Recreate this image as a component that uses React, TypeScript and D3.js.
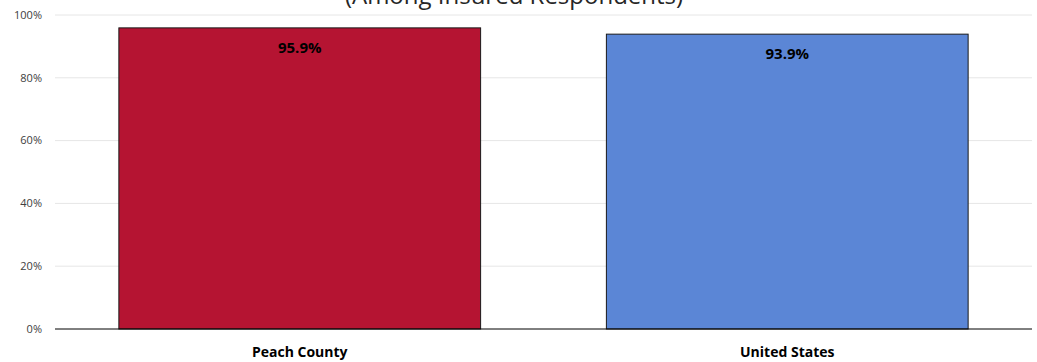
import React from "react";
import * as d3 from "d3";

const categories = ["Peach County", "United States"];
const values = [95.9, 93.9];
const colors = ["#B51432", "#5B86D6"];
const yTicks = [0, 20, 40, 60, 80, 100];
const title = "(Among Insured Respondents)";

const W = 1037;
const H = 362;
const margin = { left: 55, right: 5, top: 15, bottom: 33 };

export default function App() {
  const x = d3
    .scaleBand<string>()
    .domain(categories)
    .range([margin.left, W - margin.right])
    .paddingInner(0.258)
    .paddingOuter(0.131);
  const y = d3.scaleLinear().domain([0, 100]).range([H - margin.bottom, margin.top]);
  const font = "'Segoe UI', 'Open Sans', 'Noto Sans', sans-serif";
  return (
    <svg
      width={W}
      height={H}
      style={{ position: "absolute", left: 0, top: 0, fontFamily: font }}
    >
      <text x={514} y={4} textAnchor="middle" fontSize={24} fill="#262626">
        {title}
      </text>
      {yTicks.map((t) => (
        <g key={t}>
          {t > 0 && (
            <line
              x1={margin.left}
              x2={W - margin.right}
              y1={y(t)}
              y2={y(t)}
              stroke="#e6e6e6"
              strokeWidth={1}
            />
          )}
          <text
            x={42}
            y={y(t)}
            dy="0.35em"
            textAnchor="end"
            fontSize={11}
            fill="#404040"
          >
            {t}%
          </text>
        </g>
      ))}
      {categories.map((c, i) => (
        <g key={c}>
          <rect
            x={x(c)}
            y={y(values[i])}
            width={x.bandwidth()}
            height={y(0) - y(values[i])}
            fill={colors[i]}
            stroke="#1a1a1a"
            strokeWidth={1}
          />
          <text
            x={(x(c) as number) + x.bandwidth() / 2}
            y={y(values[i]) + 25}
            textAnchor="middle"
            fontSize={15}
            fontWeight="bold"
            fill="#000"
          >
            {values[i].toFixed(1)}%
          </text>
          <text
            x={(x(c) as number) + x.bandwidth() / 2}
            y={357}
            textAnchor="middle"
            fontSize={14}
            fontWeight="bold"
            fill="#000"
          >
            {c}
          </text>
        </g>
      ))}
      <line
        x1={margin.left}
        x2={W - margin.right}
        y1={y(0)}
        y2={y(0)}
        stroke="#000"
        strokeWidth={1}
      />
    </svg>
  );
}
